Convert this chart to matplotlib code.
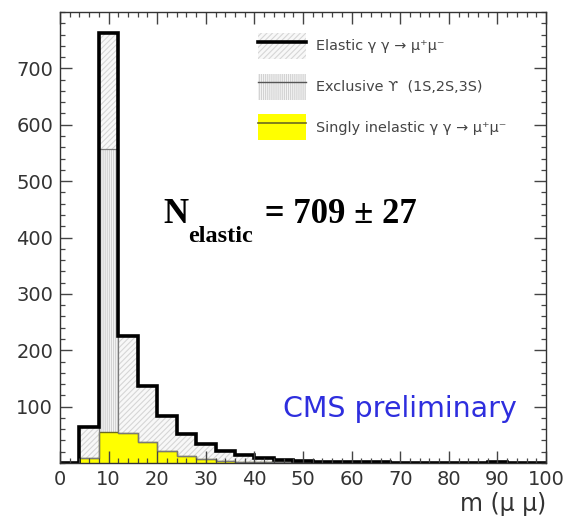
import matplotlib
matplotlib.use("Agg")
import matplotlib.pyplot as plt
import numpy as np
from matplotlib.patches import Patch
from matplotlib.lines import Line2D
from matplotlib.ticker import MultipleLocator

# ---- data (events per 4 GeV bin) ----
bin_edges = list(range(0, 104, 4))  # 0..100
singly_inelastic = [0, 9, 55, 53, 37, 22, 13, 7, 3, 2, 1.5, 1, 1, 0.5, 0.5, 0.3, 0.3,
                    0.2, 0.2, 0.2, 0.2, 0.2, 0.2, 0, 0]
upsilon = [0, 0, 502, 0, 0, 0, 0, 0, 0, 0, 0, 0, 0, 0, 0, 0, 0, 0, 0, 0, 0, 0, 0, 0, 0]
elastic = [0, 55, 205, 173, 100, 62, 39, 26, 18, 12, 6.5, 4, 3, 1.5, 1.5, 1, 0.7,
           0.5, 0.5, 0.4, 0.4, 0.3, 1.8, 0, 0]
x_ticks = [0, 10, 20, 30, 40, 50, 60, 70, 80, 90, 100]
y_ticks = [100, 200, 300, 400, 500, 600, 700]
legend_labels = ["Elastic γ γ → μ⁺μ⁻", "Exclusive ϒ  (1S,2S,3S)",
                 "Singly inelastic γ γ → μ⁺μ⁻"]

edges = np.array(bin_edges, dtype=float)
y_sin = np.array(singly_inelastic, dtype=float)
y_ups = y_sin + np.array(upsilon, dtype=float)
y_tot = y_ups + np.array(elastic, dtype=float)

EL_FACE, EL_HATCH = '#f8f8f8', '#d6d6d6'
UP_FACE, UP_HATCH = '#f6f6f6', '#d2d2d2'

plt.rcParams['hatch.linewidth'] = 0.8
fig = plt.figure(figsize=(5.69, 5.27), dpi=100)
ax = fig.add_axes([60/569, 1-463/527, 486/569, 451/527])

# fills
ax.stairs(y_tot, edges, baseline=y_ups, fill=True, facecolor=EL_FACE,
          edgecolor=EL_HATCH, hatch='//////', lw=0)
ax.stairs(y_ups, edges, baseline=y_sin, fill=True, facecolor=UP_FACE,
          edgecolor=UP_HATCH, hatch='||||||||', lw=0)
ax.stairs(y_sin, edges, baseline=0, fill=True, facecolor='#ffff00', lw=0)
# outlines
ax.stairs(y_sin, edges, baseline=None, fill=False, color='#6b6b20', lw=1.0)
ax.stairs(y_ups, edges, baseline=None, fill=False, color='#7a7a7a', lw=0.9)
ax.stairs(y_tot, edges, baseline=0, fill=False, color='black', lw=2.6)

ax.set_xlim(0, 100)
ax.set_ylim(0, 800)
ax.set_xticks(x_ticks)
ax.set_yticks(y_ticks)
ax.xaxis.set_minor_locator(MultipleLocator(2))
ax.yaxis.set_minor_locator(MultipleLocator(20))
for s in ax.spines.values():
    s.set_color('#333333')
    s.set_linewidth(1.0)
ax.tick_params(which='both', direction='in', top=True, right=True, colors='#444444',
               labelcolor='#333333', labelsize=14)
ax.tick_params(which='major', length=8.5, width=1.0, pad=5)
ax.tick_params(which='minor', length=3.8, width=0.9)
for lab in ax.get_xticklabels() + ax.get_yticklabels():
    lab.set_family('DejaVu Sans')

ax.set_xlabel("m (μ μ)", fontsize=17, color='#333333', loc='right', labelpad=2)

# legend
h1 = (Patch(facecolor=EL_FACE, edgecolor=EL_HATCH, hatch='//////', lw=0),
      Line2D([], [], color='black', lw=2.6))
h2 = (Patch(facecolor=UP_FACE, edgecolor=UP_HATCH, hatch='||||||||', lw=0),
      Line2D([], [], color='#555555', lw=1.0))
h3 = (Patch(facecolor='#ffff00', lw=0), Line2D([], [], color='#6b6b20', lw=1.2))
leg = ax.legend([h1, h2, h3], legend_labels, loc='upper left',
                bbox_to_anchor=((258-60)/486, (463-33)/451), frameon=False,
                borderpad=0, borderaxespad=0, fontsize=10.4, handlelength=3.3,
                handleheight=2.4, labelspacing=1.0, handletextpad=0.7)
for t in leg.get_texts():
    t.set_color('#444444')

# annotations
serif = dict(fontweight='bold', family='Liberation Serif')
t1 = ax.text(21.2, 425, "N", fontsize=25, va='baseline', ha='left', **serif)
t2 = ax.annotate("elastic", xy=(1, 0), xycoords=t1, xytext=(0.3, -7.6),
                 textcoords='offset points', fontsize=17.5, va='baseline', ha='left', **serif)
t3 = ax.annotate(" = 709 ± 27", xy=(1, 0), xycoords=(t2, t1), xytext=(2, 0),
                 textcoords='offset points', fontsize=25, va='bottom', ha='left', **serif)

ax.text(45.9, 81.5, "CMS preliminary", fontsize=20.5, color='#2e2ede', family='DejaVu Sans',
        va='baseline', ha='left')

fig.savefig("out.png", dpi=100)
